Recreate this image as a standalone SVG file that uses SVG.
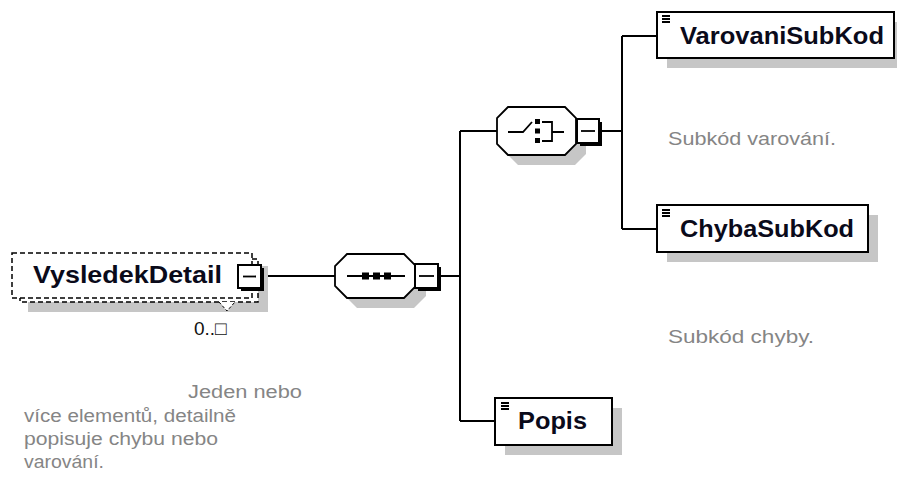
<svg xmlns="http://www.w3.org/2000/svg" width="897" height="479" viewBox="0 0 897 479">
<style>
.shadow{fill:#c6c6c6}
.box{fill:#fff;stroke:#000;stroke-width:2}
.dash{fill:#fff;stroke:#000;stroke-width:1.5;stroke-dasharray:5 3}
.lbl{font-family:"Liberation Sans",Arial,sans-serif;font-weight:bold;font-size:24px;fill:#0a0a1a}
.ann{font-family:"Liberation Sans",Arial,sans-serif;font-size:17.5px;fill:#858585}
.conn{stroke:#000;stroke-width:2;fill:none}
.ico{stroke:#000;stroke-width:1.8;fill:none}
.sq{fill:#000}
.mb{fill:#fff;stroke:#000;stroke-width:2}
</style>
<rect width="897" height="479" fill="#fff"/>
<g id="connectors">
<path class="conn" d="M263 276H335M438 276H460M460 131V421M460 131H497M460 421H495M599 131H622M622 36V229M622 36H657M622 229H657"/>
</g>
<g id="VysledekDetail">
<rect class="shadow" x="28" y="266" width="240" height="46"/>
<rect class="dash" x="20" y="259" width="238" height="43"/>
<rect class="dash" x="12" y="253" width="240" height="45"/>
<polyline points="219,302 227,311 235,302" fill="#fff" stroke="#000" stroke-width="1" stroke-dasharray="3 2"/>
<text class="lbl" x="33" y="283" textLength="189" lengthAdjust="spacingAndGlyphs">VysledekDetail</text>
<rect x="241" y="268" width="23" height="23" fill="#000"/>
<rect class="mb" x="238" y="265" width="23" height="23"/>
<line class="ico" x1="243" y1="276.5" x2="256" y2="276.5"/>
<text x="194" y="335" font-family="'Liberation Sans',Arial,sans-serif" font-size="19" fill="#111">0..□</text>
</g>
<g id="sequence">
<polygon class="shadow" points="357,264 414,264 426,276 426,296 414,308 357,308 345,296 345,276"/>
<polygon class="box" style="stroke-width:1.8" points="347,254 404,254 416,266 416,286 404,298 347,298 335,286 335,266"/>
<line class="ico" x1="347" y1="276" x2="405" y2="276"/>
<rect class="sq" x="362" y="272.5" width="7" height="7"/>
<rect class="sq" x="373" y="272.5" width="7" height="7"/>
<rect class="sq" x="384" y="272.5" width="7" height="7"/>
<rect x="418" y="267" width="23" height="24" fill="#000"/>
<rect class="mb" x="415" y="264" width="23" height="24"/>
<line class="ico" x1="419" y1="276" x2="434" y2="276"/>
</g>
<g id="choice">
<polygon class="shadow" points="518,117 575,117 586,128 586,154 575,165 518,165 507,154 507,128"/>
<polygon class="box" style="stroke-width:1.8" points="508,107 565,107 576,118 576,144 565,155 508,155 497,144 497,118"/>
<path class="ico" d="M508 132H523L532 122M542 122H552V141H542M552 132H564"/>
<rect class="sq" x="535" y="119" width="5" height="5"/>
<rect class="sq" x="535" y="128.5" width="5" height="5"/>
<rect class="sq" x="535" y="138" width="5" height="5"/>
<rect x="580" y="122" width="22" height="24" fill="#000"/>
<rect class="mb" x="577" y="119" width="22" height="24"/>
<line class="ico" x1="581" y1="131" x2="595" y2="131"/>
</g>
<g id="VarovaniSubKod">
<rect class="shadow" x="667" y="22" width="237" height="46"/>
<rect class="box" x="657" y="12" width="237" height="46"/>
<path class="ico" d="M662 16H670M662 19H670M662 22H670"/>
<text class="lbl" x="680" y="44" textLength="204" lengthAdjust="spacingAndGlyphs">VarovaniSubKod</text>
</g>
<g id="ChybaSubKod">
<rect class="shadow" x="667" y="215" width="211" height="47"/>
<rect class="box" x="657" y="205" width="211" height="47"/>
<path class="ico" d="M662 210H670M662 213H670M662 216H670"/>
<text class="lbl" x="680" y="237" textLength="174" lengthAdjust="spacingAndGlyphs">ChybaSubKod</text>
</g>
<g id="Popis">
<rect class="shadow" x="505" y="408" width="117" height="47"/>
<rect class="box" x="495" y="398" width="117" height="47"/>
<path class="ico" d="M501 403H509M501 406H509M501 409H509"/>
<text class="lbl" x="518" y="429" textLength="69" lengthAdjust="spacingAndGlyphs">Popis</text>
</g>
<g id="annotations">
<text class="ann" x="668" y="145" textLength="168" lengthAdjust="spacingAndGlyphs">Subkód varování.</text>
<text class="ann" x="668" y="343" textLength="146" lengthAdjust="spacingAndGlyphs">Subkód chyby.</text>
<text class="ann" x="188" y="398" textLength="114" lengthAdjust="spacingAndGlyphs">Jeden nebo</text>
<text class="ann" x="24" y="422" textLength="212" lengthAdjust="spacingAndGlyphs">více elementů, detailně</text>
<text class="ann" x="24" y="445" textLength="194" lengthAdjust="spacingAndGlyphs">popisuje chybu nebo</text>
<text class="ann" x="24" y="468" textLength="80" lengthAdjust="spacingAndGlyphs">varování.</text>
</g>
</svg>
